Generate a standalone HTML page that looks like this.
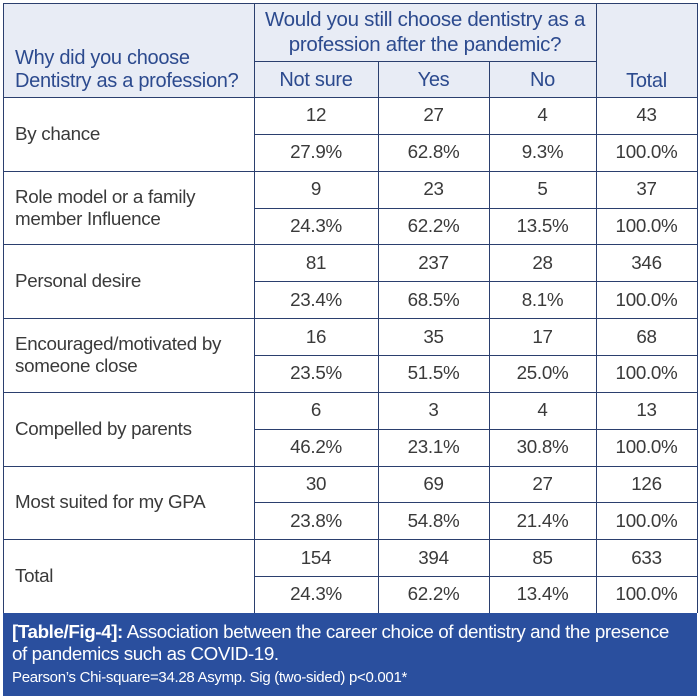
<!DOCTYPE html>
<html><head><meta charset="utf-8"><style>
body{margin:0;width:699px;height:696px;background:#fff;font-family:"Liberation Sans",Arial,sans-serif;overflow:hidden;position:relative}
.a{position:absolute}
.hl{position:absolute;background:#2b3f6e}
.c{position:absolute;display:flex;align-items:center;justify-content:center;font-size:18.8px;color:#3a3a3a;letter-spacing:-0.3px}
.h{color:#2c4a8e;font-size:20px}
.l{justify-content:flex-start;padding-left:12px;line-height:22px}
</style></head><body>
<div class="a" style="left:3px;top:3px;width:694px;height:94px;background:#e8ecf5"></div>
<div class="c h l" style="left:3px;top:40px;width:240px;height:60px;line-height:23px">Why did you choose<br>Dentistry as a profession?</div>
<div class="c h" style="left:254px;top:3px;width:342px;height:58px;text-align:center;line-height:25px;font-size:20.5px">Would you still choose dentistry as a<br>profession after the pandemic?</div>
<div class="c h" style="left:254px;top:62px;width:124px;height:36px">Not sure</div>
<div class="c h" style="left:378px;top:62px;width:111px;height:36px">Yes</div>
<div class="c h" style="left:489px;top:62px;width:107px;height:36px">No</div>
<div class="c h" style="left:596px;top:62px;width:101px;height:38px">Total</div>
<div id="body"></div>
<div class="a" style="left:3px;top:613px;width:694px;height:83px;background:#2a4f9e;color:#fff">
<div style="position:absolute;left:9px;top:8px;font-size:18.8px;line-height:22px;letter-spacing:-0.4px;white-space:nowrap"><b>[Table/Fig-4]:</b> Association between the career choice of dentistry and the presence<br>of pandemics such as COVID-19.</div>
<div style="position:absolute;left:9px;top:56px;font-size:15px;letter-spacing:-0.3px;white-space:nowrap">Pearson’s Chi-square=34.28 Asymp. Sig (two-sided) p&lt;0.001*</div>
</div>
<script>
const labels=["By chance","Role model or a family<br>member Influence","Personal desire","Encouraged/motivated by<br>someone close","Compelled by parents","Most suited for my GPA","Total"];
const counts=[["12","27","4","43"],["9","23","5","37"],["81","237","28","346"],["16","35","17","68"],["6","3","4","13"],["30","69","27","126"],["154","394","85","633"]];
const pcts=[["27.9%","62.8%","9.3%","100.0%"],["24.3%","62.2%","13.5%","100.0%"],["23.4%","68.5%","8.1%","100.0%"],["23.5%","51.5%","25.0%","100.0%"],["46.2%","23.1%","30.8%","100.0%"],["23.8%","54.8%","21.4%","100.0%"],["24.3%","62.2%","13.4%","100.0%"]];
const cols=[254,378,489,596,697];
const B=document.getElementById('body');
const top0=97,gh=73.7;
function div(cls,style,html){const d=document.createElement('div');d.className=cls;d.style.cssText=style;if(html!==undefined)d.innerHTML=html;B.appendChild(d);return d;}
labels.forEach((lab,i)=>{
 const y=top0+i*gh;
 const d=div('c l',`left:3px;top:${y}px;width:240px;height:${gh}px`,lab);
 
 
 for(let j=0;j<4;j++){
  const w=cols[j+1]-cols[j];
  const a=div('c',`left:${cols[j]}px;top:${y}px;width:${w}px;height:${gh/2}px`,counts[i][j]);
  
  
  const b=div('c',`left:${cols[j]}px;top:${y+gh/2}px;width:${w}px;height:${gh/2}px`,pcts[i][j]);
  
  
 }
 const m=div('hl',`left:254px;top:${y+gh/2}px;width:443px;height:1px`);
 
 
 const t=div('hl',`left:3px;top:${Math.round(y)}px;width:694px;height:1px`);
 
 
});
[[3,3,1,610],[697,3,1,610],[254,3,1,610],[596,3,1,610],[378,61,1,552],[489,61,1,552]].forEach(v=>{
 const d=div('hl',`left:${v[0]}px;top:${v[1]}px;width:${v[2]}px;height:${v[3]}px`);
 
 
});
const tl=div('hl','left:3px;top:3px;width:694px;height:1px');


const sl=div('hl','left:254px;top:61px;width:342px;height:1px');


</script>
</body></html>
